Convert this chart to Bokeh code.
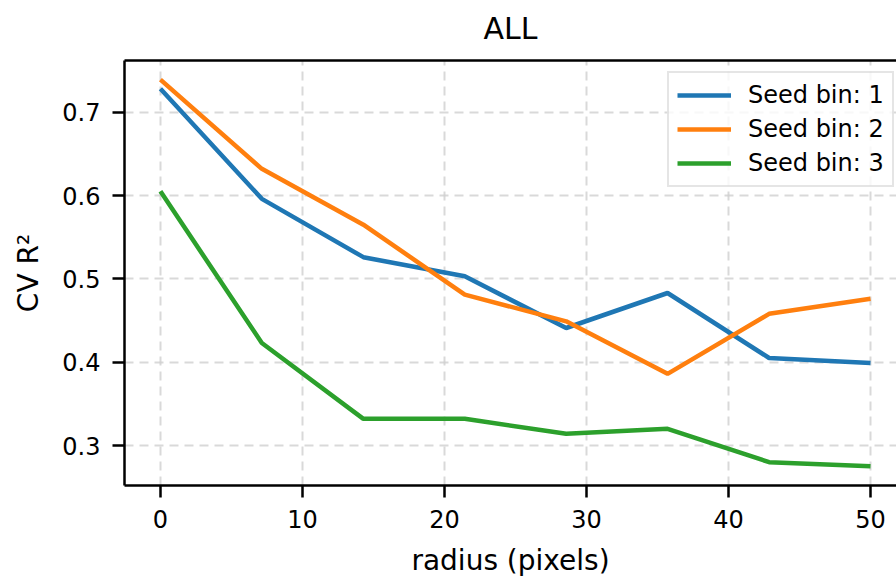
from bokeh.plotting import figure
from bokeh.models import Range1d, LinearAxis, FixedTicker, Legend
from bokeh.embed import file_html
from bokeh.resources import INLINE

radius = [0.0, 7.14, 14.29, 21.43, 28.57, 35.71, 42.86, 50.0]
seed_bin_1 = [0.728, 0.596, 0.526, 0.503, 0.441, 0.483, 0.405, 0.399]
seed_bin_2 = [0.739, 0.632, 0.565, 0.481, 0.449, 0.386, 0.458, 0.476]
seed_bin_3 = [0.605, 0.423, 0.332, 0.332, 0.314, 0.320, 0.280, 0.275]
series_labels = ["Seed bin: 1", "Seed bin: 2", "Seed bin: 3"]
colors = ["#1f77b4", "#ff7f0e", "#2ca02c"]
x_ticks = [0, 10, 20, 30, 40, 50]
y_ticks = [0.3, 0.4, 0.5, 0.6, 0.7]
title_text = "ALL"

FONT = "DejaVu Sans"
TXT = "#000000"

p = figure(width=896, height=581, output_backend="svg", toolbar_location=None,
           x_range=Range1d(-2.53, 51.83), y_range=Range1d(0.252, 0.762),
           min_border_left=124, min_border_right=0, min_border_top=60,
           min_border_bottom=96)
p.title.visible = False
p.outline_line_color = None
p.background_fill_color = "white"
p.border_fill_color = "white"

for ax in (p.xaxis[0], p.yaxis[0]):
    ax.axis_line_width = 2.5
    ax.axis_line_color = "black"
    ax.major_tick_line_width = 2.5
    ax.major_tick_line_color = "black"
    ax.major_tick_in = 0
    ax.major_tick_out = 12
    ax.minor_tick_line_color = None
    ax.major_label_text_font = FONT
    ax.major_label_text_font_size = "24px"
    ax.major_label_text_color = TXT
    ax.axis_label_text_font = FONT
    ax.axis_label_text_font_size = "28px"
    ax.axis_label_text_font_style = "normal"
    ax.axis_label_text_color = TXT

p.xaxis[0].ticker = FixedTicker(ticks=x_ticks)
p.yaxis[0].ticker = FixedTicker(ticks=y_ticks)
p.xaxis[0].axis_label = "radius (pixels)"
p.yaxis[0].axis_label = "CV R\u00b2"
p.xaxis[0].major_label_standoff = 12
p.xaxis[0].axis_label_standoff = 13
p.yaxis[0].major_label_standoff = 12
p.yaxis[0].axis_label_standoff = 14

# top spine, carrying the chart title as its label
top = LinearAxis(ticker=FixedTicker(ticks=[]), axis_line_width=2.5, axis_line_color="black",
                 major_tick_out=0, major_tick_in=0, minor_tick_out=0, minor_tick_in=0,
                 major_label_text_font_size="0px", major_label_standoff=0,
                 axis_label=title_text, axis_label_standoff=15,
                 axis_label_text_font=FONT, axis_label_text_font_size="30px",
                 axis_label_text_font_style="normal", axis_label_text_color=TXT)
p.add_layout(top, "above")

for g in (p.xgrid[0], p.ygrid[0]):
    g.grid_line_color = "#d0d0d0"
    g.grid_line_width = 2
    g.grid_line_dash = "9 6"
    g.grid_line_alpha = 0.8

items = []
for vals, lab, col in zip([seed_bin_1, seed_bin_2, seed_bin_3], series_labels, colors):
    r = p.line(radius, vals, line_color=col, line_width=4.5)
    items.append((lab, [r]))

legend = Legend(items=items, location=(543, 298))
legend.label_text_font = FONT
legend.label_text_font_size = "24px"
legend.label_text_color = TXT
legend.glyph_width = 54
legend.glyph_height = 28
legend.label_height = 28
legend.label_standoff = 17
legend.spacing = 6
legend.padding = 8
legend.margin = 0
legend.border_line_color = "#cccccc"
legend.border_line_width = 2
legend.background_fill_color = "white"
legend.background_fill_alpha = 0.8
p.add_layout(legend, "center")

open("out.html", "w").write(file_html(p, INLINE))
